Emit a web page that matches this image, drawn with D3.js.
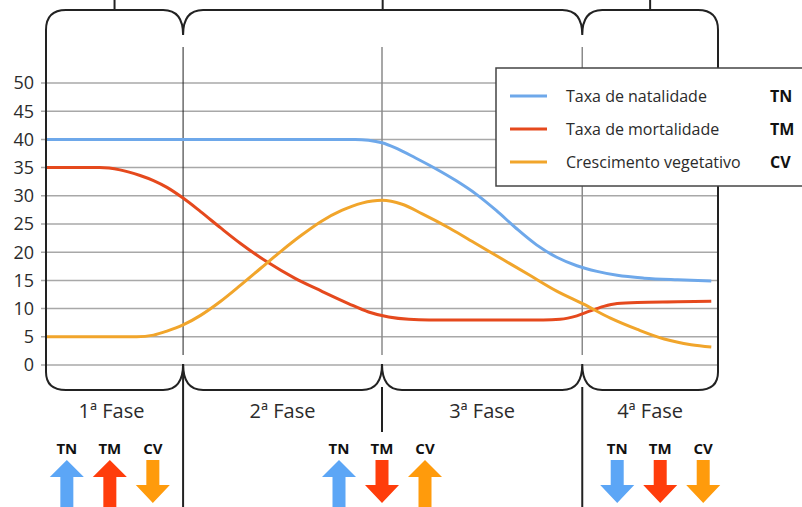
<!DOCTYPE html>
<html>
<head>
<meta charset="utf-8">
<script src="https://cdn.jsdelivr.net/npm/d3@7"></script>
<style>
  body { margin: 0; background: #fff; }
  svg text { font-family: "Open Sans", sans-serif; fill: #2b2b2b; }
</style>
</head>
<body>
<div id="grafico"></div>
<script>
// Dados do gráfico (eixo x em "tempo" de 0 a 100)
const nomes = ["Taxa de natalidade", "Taxa de mortalidade", "Crescimento vegetativo"];
const siglas = ["TN", "TM", "CV"];
const cores = ["#6ea8ea", "#e5491d", "#f1a52b"];
const coresSetas = ["#5ca6f6", "#ff3d0b", "#ff9b0c"];

const tn = [[0,40],[46,40],[48,39.85],[50,39.4],[52,38.5],[55,36.7],[58,34.8],[61,32.7],[64,30.3],
            [67,27.4],[70,24.2],[73,21.3],[76,19.1],[79,17.6],[82,16.6],[85,15.9],[89,15.4],
            [94,15.1],[99,14.9]];
const tm = [[0,35],[8,35],[11,34.6],[14,33.6],[16,32.7],[18,31.5],[20.4,29.6],[23,27.2],[26,24.3],
            [29,21.5],[33,18.2],[37,15.4],[41,13.1],[45,10.9],[48,9.4],[51,8.5],[54,8.1],[57,8],
            [74,8],[76.5,8.1],[79,8.7],[81,9.6],[83,10.4],[85,10.9],[88,11.1],[94,11.2],[99,11.3]];
const cv = [[0,5],[13.5,5],[16,5.3],[18,6.0],[20.4,7.1],[23,8.8],[26,11.3],[29,14.2],[32,17.2],
            [35,20.2],[38,23.0],[41,25.5],[44,27.4],[47,28.7],[50,29.2],[53,28.5],[56,26.8],
            [60,24.3],[64,21.5],[68,18.7],[72,15.9],[76,13.1],[80,10.8],[84,8.3],[88,6.3],
            [92,4.6],[96,3.6],[99,3.2]];

const yTicks = [0, 5, 10, 15, 20, 25, 30, 35, 40, 45, 50];
const fases = ["1ª Fase", "2ª Fase", "3ª Fase", "4ª Fase"];
const limitesFases = [0, 20.4, 50, 79.8, 100];
// chaves de cima: fases 2 e 3 juntas
const chavesTopo = [[0, 20.4], [20.4, 79.8], [79.8, 100]];
// setas: 1 = sobe, -1 = desce (TN, TM, CV)
const gruposSetas = [
  { centro: 9.5, dir: [1, 1, -1] },
  { centro: 50, dir: [1, -1, 1] },
  { centro: 91.4, dir: [-1, -1, -1] }
];

const width = 802, height = 507;
const svg = d3.select("#grafico").append("svg")
  .attr("width", width).attr("height", height);

const x = d3.scaleLinear().domain([0, 100]).range([46, 718]);
const y = d3.scaleLinear().domain([0, 50]).range([365, 83]);

// Linhas de grade horizontais
svg.selectAll(".grade").data(yTicks).enter().append("line")
  .attr("x1", 41).attr("x2", x(100))
  .attr("y1", d => y(d)).attr("y2", d => y(d))
  .attr("stroke", "#a8a8a8").attr("stroke-width", 1.5);

svg.selectAll(".rotulo-y").data(yTicks).enter().append("text")
  .attr("x", 34).attr("y", d => y(d)).attr("dy", "0.36em")
  .attr("text-anchor", "end").attr("font-size", 18)
  .text(d => d);

// Divisórias verticais das fases
limitesFases.slice(1, 4).forEach((d, i) => {
  svg.append("line")
    .attr("x1", x(d)).attr("x2", x(d)).attr("y1", 47).attr("y2", 355)
    .attr("stroke", i === 0 ? "#222" : "#8a8a8a")
    .attr("stroke-width", i === 0 ? 1 : 1.5);
});

// Curvas
const linha = d3.line().x(d => x(d[0])).y(d => y(d[1])).curve(d3.curveMonotoneX);
[tn, tm, cv].forEach((s, i) => {
  svg.append("path").attr("d", linha(s))
    .attr("fill", "none").attr("stroke", cores[i]).attr("stroke-width", 3);
});

// Chaves (contorno)
const xe = x(0), xd = x(100);
const yTopo = 10, yBase = 390, r = 20;
let p = `M${xe},372 L${xe},${yTopo + r} Q${xe},${yTopo} ${xe + r},${yTopo}`;
chavesTopo.slice(1).forEach(c => {
  const cx = x(c[0]);
  p += ` L${cx - r},${yTopo} Q${cx},${yTopo} ${cx},35 Q${cx},${yTopo} ${cx + r},${yTopo}`;
});
p += ` L${xd - r},${yTopo} Q${xd},${yTopo} ${xd},${yTopo + r} L${xd},372 Q${xd},${yBase} ${xd - r},${yBase}`;
limitesFases.slice(1, 4).reverse().forEach(d => {
  const cx = x(d);
  p += ` L${cx + r},${yBase} Q${cx},${yBase} ${cx},364 Q${cx},${yBase} ${cx - r},${yBase}`;
});
p += ` L${xe + r},${yBase} Q${xe},${yBase} ${xe},372`;
svg.append("path").attr("d", p)
  .attr("fill", "none").attr("stroke", "#222").attr("stroke-width", 2);

// Traços no topo das chaves
chavesTopo.forEach(c => {
  const cx = x((c[0] + c[1]) / 2);
  svg.append("line").attr("x1", cx).attr("x2", cx).attr("y1", 0).attr("y2", yTopo)
    .attr("stroke", "#222").attr("stroke-width", 2);
});

// Traços abaixo das chaves
svg.append("line").attr("x1", x(20.4)).attr("x2", x(20.4)).attr("y1", 364).attr("y2", height)
  .attr("stroke", "#222").attr("stroke-width", 2);
svg.append("line").attr("x1", x(50)).attr("x2", x(50)).attr("y1", 387).attr("y2", 432)
  .attr("stroke", "#222").attr("stroke-width", 2);
svg.append("line").attr("x1", x(79.8)).attr("x2", x(79.8)).attr("y1", 387).attr("y2", height)
  .attr("stroke", "#222").attr("stroke-width", 2);

// Rótulos das fases
fases.forEach((f, i) => {
  svg.append("text")
    .attr("x", x((limitesFases[i] + limitesFases[i + 1]) / 2) - (i === 0 ? 3 : 0)).attr("y", 418)
    .attr("text-anchor", "middle").attr("font-size", 20)
    .text(f);
});

// Setas
gruposSetas.forEach(g => {
  g.dir.forEach((dir, i) => {
    const cx = x(g.centro) + (i - 1) * 43;
    svg.append("text").attr("x", cx).attr("y", 454)
      .attr("text-anchor", "middle").attr("font-size", 15).attr("font-weight", "bold")
      .style("fill", "#111").text(siglas[i]);
    const seta = dir > 0
      ? `M${cx},460 L${cx + 17},477 L${cx + 6.5},477 L${cx + 6.5},${height} L${cx - 6.5},${height} L${cx - 6.5},477 L${cx - 17},477 Z`
      : `M${cx - 6.5},460 L${cx + 6.5},460 L${cx + 6.5},485 L${cx + 17},485 L${cx},503 L${cx - 17},485 L${cx - 6.5},485 Z`;
    svg.append("path").attr("d", seta).attr("fill", coresSetas[i]);
  });
});

// Legenda
const leg = svg.append("g");
leg.append("rect").attr("x", 496).attr("y", 68).attr("width", 330).attr("height", 118)
  .attr("fill", "#fff").attr("stroke", "#444").attr("stroke-width", 1.5);
nomes.forEach((n, i) => {
  const ly = 96 + i * 33;
  leg.append("line").attr("x1", 510).attr("x2", 547).attr("y1", ly).attr("y2", ly)
    .attr("stroke", cores[i]).attr("stroke-width", 3);
  leg.append("text").attr("x", 566).attr("y", ly).attr("dy", "0.35em")
    .attr("font-size", 16).text(n);
  leg.append("text").attr("x", 770).attr("y", ly).attr("dy", "0.35em")
    .attr("font-size", 16).attr("font-weight", "bold").style("fill", "#111").text(siglas[i]);
});
</script>
</body>
</html>
